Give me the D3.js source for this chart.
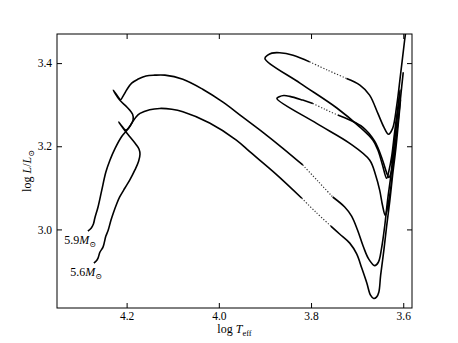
<!DOCTYPE html>
<html>
<head>
<meta charset="utf-8">
<script src="https://cdn.jsdelivr.net/npm/d3@7"></script>
<style>
  body { margin: 0; background: #fff; }
  text { font-family: "Liberation Serif", "DejaVu Serif", serif; fill: #000; }
</style>
</head>
<body>
<svg id="chart"></svg>
<script>
// [log Teff, log L, fast]  fast = 1 -> sparse models up to the next point (drawn dotted)
var track59 = [
    [4.284, 2.996, 0], [4.277, 3.003, 0], [4.272, 3.013, 0], [4.269, 3.027, 0],
    [4.262, 3.054, 0], [4.254, 3.094, 0], [4.245, 3.138, 0], [4.236, 3.167, 0],
    [4.225, 3.195, 0], [4.211, 3.223, 0], [4.202, 3.235, 0], [4.193, 3.248, 0],
    [4.186, 3.263, 0], [4.187, 3.277, 0], [4.199, 3.294, 0], [4.215, 3.311, 0],
    [4.229, 3.335, 0], [4.221, 3.323, 0], [4.213, 3.312, 0], [4.208, 3.320, 0],
    [4.199, 3.337, 0], [4.189, 3.352, 0], [4.176, 3.361, 0], [4.158, 3.369, 0],
    [4.139, 3.371, 0], [4.117, 3.371, 0], [4.078, 3.361, 0], [4.035, 3.337, 0],
    [3.991, 3.306, 0], [3.948, 3.270, 0], [3.905, 3.234, 0], [3.861, 3.195, 0],
    [3.818, 3.155, 1], [3.785, 3.116, 1], [3.753, 3.078, 0], [3.727, 3.054, 0],
    [3.712, 3.032, 0], [3.699, 2.998, 0], [3.686, 2.957, 0], [3.675, 2.929, 0],
    [3.662, 2.913, 0], [3.654, 2.921, 0], [3.647, 2.955, 0], [3.640, 3.010, 0],
    [3.634, 3.070, 0], [3.627, 3.128, 0], [3.621, 3.191, 0], [3.614, 3.258, 0],
    [3.608, 3.323, 0], [3.607, 3.335, 0], [3.612, 3.292, 0], [3.619, 3.231, 0],
    [3.625, 3.176, 0], [3.631, 3.141, 0], [3.636, 3.123, 0], [3.645, 3.155, 0],
    [3.655, 3.191, 0], [3.666, 3.215, 0], [3.694, 3.246, 0], [3.744, 3.292, 0],
    [3.824, 3.352, 0], [3.900, 3.411, 0], [3.894, 3.419, 0], [3.885, 3.424, 0],
    [3.868, 3.425, 0], [3.839, 3.419, 0], [3.803, 3.403, 1], [3.764, 3.383, 1],
    [3.723, 3.363, 0], [3.694, 3.347, 0], [3.673, 3.323, 0], [3.655, 3.279, 0],
    [3.642, 3.246, 0], [3.632, 3.229, 0], [3.623, 3.243, 0], [3.614, 3.299, 0],
    [3.606, 3.371, 0], [3.597, 3.455, 0], [3.593, 3.489, 0]
];

var track56 = [
    [4.271, 2.919, 0], [4.266, 2.924, 0], [4.262, 2.931, 0], [4.258, 2.945, 0],
    [4.251, 2.958, 0], [4.245, 2.984, 0], [4.240, 2.998, 0], [4.234, 3.022, 0],
    [4.229, 3.039, 0], [4.221, 3.063, 0], [4.215, 3.078, 0], [4.204, 3.099, 0],
    [4.193, 3.119, 0], [4.182, 3.143, 0], [4.174, 3.164, 0], [4.171, 3.181, 0],
    [4.173, 3.193, 0], [4.180, 3.205, 0], [4.193, 3.223, 0], [4.206, 3.241, 0],
    [4.217, 3.258, 0], [4.210, 3.248, 0], [4.202, 3.239, 0], [4.197, 3.242, 0],
    [4.189, 3.255, 0], [4.180, 3.270, 0], [4.171, 3.279, 0], [4.150, 3.288, 0],
    [4.128, 3.291, 0], [4.102, 3.289, 0], [4.078, 3.283, 0], [4.020, 3.256, 0],
    [3.962, 3.215, 0], [3.933, 3.187, 0], [3.876, 3.133, 0], [3.820, 3.075, 1],
    [3.790, 3.042, 1], [3.757, 3.008, 0], [3.738, 2.989, 0], [3.716, 2.967, 0],
    [3.701, 2.941, 0], [3.690, 2.907, 0], [3.679, 2.871, 0], [3.671, 2.842, 0],
    [3.664, 2.834, 0], [3.658, 2.837, 0], [3.653, 2.849, 0], [3.649, 2.890, 0],
    [3.642, 2.950, 0], [3.636, 3.008, 0], [3.629, 3.070, 0], [3.623, 3.131, 0],
    [3.616, 3.195, 0], [3.610, 3.263, 0], [3.606, 3.311, 0], [3.609, 3.275, 0],
    [3.615, 3.210, 0], [3.622, 3.150, 0], [3.628, 3.092, 0], [3.634, 3.054, 0],
    [3.639, 3.034, 0], [3.645, 3.058, 0], [3.651, 3.094, 0], [3.660, 3.131, 0],
    [3.673, 3.167, 0], [3.716, 3.207, 0], [3.788, 3.255, 0], [3.874, 3.315, 0],
    [3.869, 3.319, 0], [3.859, 3.322, 0], [3.846, 3.320, 0], [3.818, 3.311, 0],
    [3.796, 3.303, 1], [3.770, 3.289, 1], [3.742, 3.275, 0], [3.716, 3.263, 0],
    [3.688, 3.246, 0], [3.662, 3.212, 0], [3.645, 3.167, 0], [3.635, 3.133, 0],
    [3.631, 3.125, 0], [3.626, 3.138, 0], [3.619, 3.191, 0], [3.611, 3.263, 0],
    [3.603, 3.347, 0], [3.600, 3.378, 0]
];

var masses = ["5.9", "5.6"];
var xTicks = [4.2, 4.0, 3.8, 3.6];
var yTicks = [3.0, 3.2, 3.4];

var width = 458, height = 343;
var margin = {top: 34, right: 46, bottom: 35, left: 57};

var svg = d3.select("#chart")
    .attr("width", width)
    .attr("height", height);

var x = d3.scaleLinear()
    .domain([4.351, 3.581])
    .range([margin.left, width - margin.right]);

var y = d3.scaleLinear()
    .domain([2.811, 3.470])
    .range([height - margin.bottom, margin.top]);

var fmt = d3.format(".1f");

// axes, ticks pointing inwards on all four sides
function styleAxis(g) {
    g.select(".domain").remove();
    g.selectAll(".tick line").attr("stroke", "#000").attr("stroke-width", 1);
    g.selectAll(".tick text").attr("font-size", 11.5).attr("fill", "#000")
        .style("font-family", '"Liberation Serif", "DejaVu Serif", serif');
}

svg.append("g")
    .attr("transform", "translate(0," + (height - margin.bottom) + ")")
    .call(d3.axisBottom(x).tickValues(xTicks).tickFormat(fmt).tickSize(-5).tickPadding(4))
    .call(styleAxis);

svg.append("g")
    .attr("transform", "translate(0," + margin.top + ")")
    .call(d3.axisTop(x).tickValues(xTicks).tickFormat("").tickSize(-5))
    .call(styleAxis);

svg.append("g")
    .attr("transform", "translate(" + margin.left + ",0)")
    .call(d3.axisLeft(y).tickValues(yTicks).tickFormat(fmt).tickSize(-5).tickPadding(5))
    .call(styleAxis);

svg.append("g")
    .attr("transform", "translate(" + (width - margin.right) + ",0)")
    .call(d3.axisRight(y).tickValues(yTicks).tickFormat("").tickSize(-5))
    .call(styleAxis);

// clip
svg.append("clipPath")
    .attr("id", "plot-clip")
  .append("rect")
    .attr("x", margin.left)
    .attr("y", margin.top)
    .attr("width", width - margin.left - margin.right)
    .attr("height", height - margin.top - margin.bottom);

// split a track into runs of slow (solid) and fast (dotted) segments
function runs(track) {
    var out = [];
    var cur = [track[0]];
    var f = track[0][2];
    for (var i = 1; i < track.length; i++) {
        cur.push(track[i]);
        if (track[i][2] !== f) {
            out.push({fast: f, pts: cur});
            cur = [track[i]];
            f = track[i][2];
        }
    }
    if (cur.length > 1) out.push({fast: f, pts: cur});
    return out;
}

var line = d3.line()
    .x(function(d) { return x(d[0]); })
    .y(function(d) { return y(d[1]); })
    .curve(d3.curveCatmullRom.alpha(0.5));

var tracks = svg.append("g").attr("clip-path", "url(#plot-clip)");

[track59, track56].forEach(function(track) {
    runs(track).forEach(function(r) {
        tracks.append("path")
            .attr("d", line(r.pts))
            .attr("fill", "none")
            .attr("stroke", r.fast ? "#333" : "#000")
            .attr("stroke-width", r.fast ? 1.2 : 1.6)
            .attr("stroke-dasharray", r.fast ? "1.2,1.8" : null)
            .attr("stroke-linejoin", "round");
    });
});

// mass labels at the ZAMS end of each track
[track59, track56].forEach(function(track, i) {
    var t = svg.append("text")
        .attr("x", x(track[0][0]) + 8)
        .attr("y", y(track[0][1]) + 13)
        .attr("text-anchor", "end")
        .attr("font-size", 12);
    t.append("tspan").text(masses[i]);
    t.append("tspan").attr("font-style", "italic").text("M");
    t.append("tspan").attr("font-size", 8).attr("dy", 3).text("\u2299");
});

// frame
svg.append("rect")
    .attr("x", margin.left)
    .attr("y", margin.top)
    .attr("width", width - margin.left - margin.right)
    .attr("height", height - margin.top - margin.bottom)
    .attr("fill", "none")
    .attr("stroke", "#000")
    .attr("stroke-width", 1);

// axis titles
var xt = svg.append("text")
    .attr("x", (margin.left + width - margin.right) / 2)
    .attr("y", height - 10)
    .attr("text-anchor", "middle")
    .attr("font-size", 12);
xt.append("tspan").text("log ");
xt.append("tspan").attr("font-style", "italic").text("T");
xt.append("tspan").attr("font-size", 8.5).attr("dy", 3).text("eff");

var yt = svg.append("text")
    .attr("transform", "translate(31," + (margin.top + height - margin.bottom) / 2 + ") rotate(-90)")
    .attr("text-anchor", "middle")
    .attr("font-size", 12);
yt.append("tspan").text("log  ");
yt.append("tspan").attr("font-style", "italic").text("L");
yt.append("tspan").text("/");
yt.append("tspan").attr("font-style", "italic").text("L");
yt.append("tspan").attr("font-size", 8).attr("dy", 3).text("\u2299");
</script>
</body>
</html>
